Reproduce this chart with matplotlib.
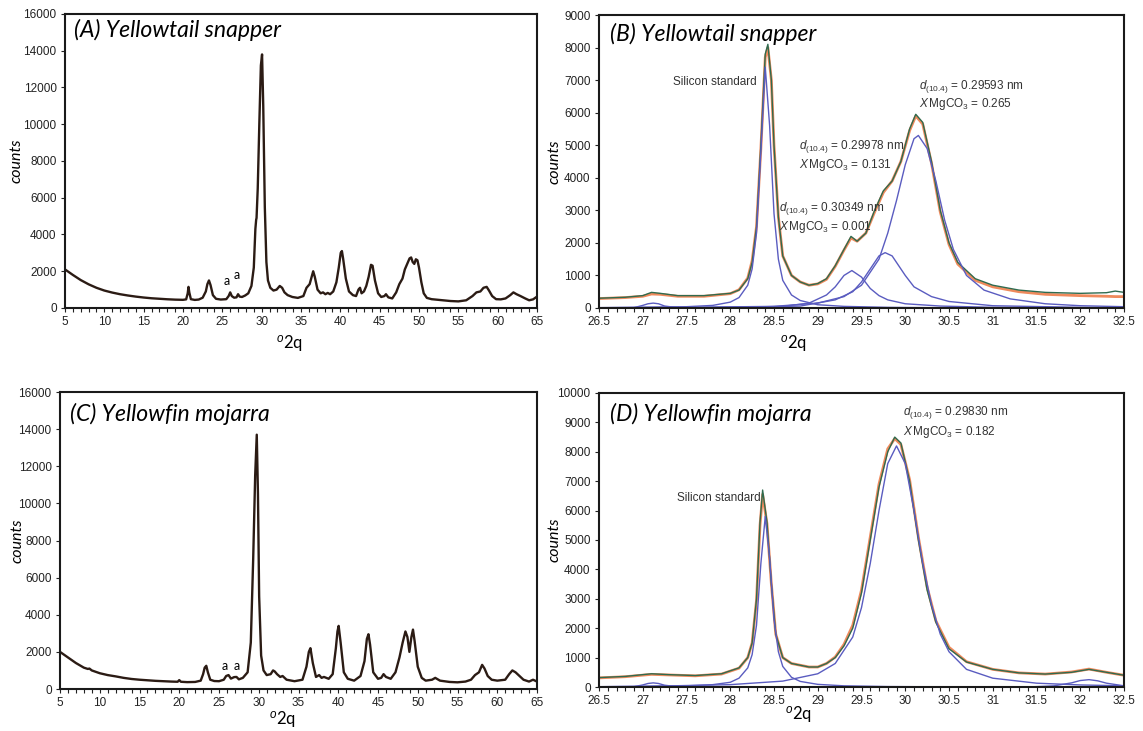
import matplotlib
matplotlib.use('Agg')
import matplotlib.pyplot as plt
from matplotlib.ticker import MultipleLocator
from matplotlib import font_manager

# ---- (A) Yellowtail snapper, full scan ----
a_x = [5, 6, 7, 8, 9, 10, 11, 12, 13, 14, 15, 16, 17, 18, 19, 20, 20.4, 20.6, 20.7, 20.8, 21.0,
       21.5, 22.0, 22.5, 22.9, 23.1, 23.3, 23.5, 23.8, 24.2, 24.8, 25.5, 25.8, 26.0, 26.2, 26.5,
       26.8, 27.0, 27.2, 27.5, 27.9, 28.3, 28.7, 29.0, 29.2, 29.3, 29.35, 29.5, 29.7, 29.9, 30.05,
       30.2, 30.4, 30.6, 30.8, 31.1, 31.5, 31.9, 32.3, 32.6, 32.9, 33.3, 33.9, 34.6, 35.3, 35.7,
       36.1, 36.35, 36.55, 36.75, 37.1, 37.5, 37.8, 38.1, 38.4, 38.7, 39.1, 39.5, 39.8, 40.05, 40.2,
       40.35, 40.7, 41.1, 41.6, 42.0, 42.3, 42.5, 42.7, 43.0, 43.3, 43.6, 43.9, 44.1, 44.4, 44.8,
       45.2, 45.6, 45.8, 46.1, 46.6, 47.1, 47.5, 47.9, 48.2, 48.5, 48.8, 49.0, 49.2, 49.4, 49.6,
       49.8, 50.0, 50.3, 50.6, 51.0, 51.6, 52.3, 53, 54, 55, 56, 56.8, 57.3, 57.8, 58.2, 58.6,
       58.9, 59.3, 59.8, 60.4, 61.0, 61.6, 62.0, 62.4, 62.9, 63.5, 64.0, 64.5, 65]
a_y = [2100, 1800, 1520, 1290, 1100, 950, 840, 750, 680, 620, 570, 530, 500, 475, 455, 445, 470,
       800, 1150, 850, 480, 440, 460, 560, 900, 1300, 1500, 1250, 700, 500, 460, 480, 650, 850,
       650, 560, 580, 750, 620, 600, 680, 800, 1200, 2200, 4300, 4800, 4900, 6500, 10000, 13200,
       13800, 11000, 5500, 2500, 1500, 1100, 950, 1000, 1200, 1100, 850, 700, 600, 550, 650, 1100,
       1300, 1700, 2000, 1700, 1000, 800, 850, 750, 820, 750, 900, 1400, 2200, 3000, 3100, 2700,
       1600, 900, 700, 650, 1000, 1100, 800, 900, 1200, 1700, 2350, 2300, 1500, 800, 600, 650, 750,
       580, 520, 850, 1300, 1600, 2100, 2400, 2700, 2750, 2500, 2400, 2650, 2600, 2200, 1400, 800,
       550, 480, 450, 420, 380, 360, 420, 650, 850, 900, 1100, 1150, 950, 650, 480, 470, 520, 700,
       850, 750, 650, 520, 420, 470, 620]

# ---- (C) Yellowfin mojarra, full scan ----
c_x = [5, 6, 7, 8, 8.5, 8.7, 9, 10, 11, 12, 13, 14, 15, 16, 17, 18, 19, 19.8, 20.0, 20.2, 21, 22,
       22.7, 23.0, 23.2, 23.4, 23.6, 23.9, 24.4, 25, 25.6, 25.9, 26.2, 26.5, 26.9, 27.2, 27.5, 28.0,
       28.6, 29.0, 29.3, 29.55, 29.75, 29.9, 30.05, 30.3, 30.6, 31.0, 31.5, 31.8, 32.0, 32.3, 32.7,
       33.0, 33.5, 34.5, 35.5, 36.0, 36.3, 36.5, 36.8, 37.2, 37.6, 37.9, 38.2, 38.8, 39.3, 39.7,
       39.9, 40.05, 40.3, 40.7, 41.2, 42.0, 42.8, 43.3, 43.6, 43.8, 44.0, 44.4, 45.0, 45.4, 45.7,
       46.0, 46.6, 47.2, 47.7, 48.1, 48.45, 48.7, 48.95, 49.2, 49.4, 49.6, 50.0, 50.5, 51.0, 51.8,
       52.2, 52.8, 54, 55, 56, 56.7, 57.2, 57.7, 58.1, 58.4, 58.8, 59.3, 60, 61, 61.5, 61.9, 62.3,
       62.8, 63.3, 64, 64.5, 65]
c_y = [2000, 1700, 1400, 1150, 1080, 1100, 1000, 850, 750, 680, 600, 540, 500, 470, 440, 420, 400,
       390, 480, 390, 370, 380, 450, 800, 1150, 1250, 900, 500, 430, 420, 500, 700, 750, 560, 640,
       650, 520, 600, 900, 2500, 7000, 11500, 13700, 10500, 5000, 1800, 1000, 750, 800, 1000, 950,
       800, 650, 700, 500, 420, 500, 1200, 2000, 2200, 1400, 650, 750, 600, 650, 550, 800, 2200,
       3100, 3400, 2500, 900, 550, 450, 700, 1500, 2700, 2950, 2400, 900, 550, 600, 800, 650, 550,
       900, 1700, 2500, 3100, 2800, 2000, 2800, 3200, 2600, 1200, 600, 450, 500, 600, 450, 380, 360,
       400, 500, 750, 900, 1300, 1100, 700, 500, 450, 500, 800, 1000, 900, 700, 500, 400, 500, 400]

# ---- (B) Yellowtail snapper, 26.5-32.5 with fitted components ----
b_x = [26.5, 26.8, 27.0, 27.1, 27.2, 27.4, 27.7, 28.0, 28.1, 28.2, 28.25, 28.3, 28.35, 28.4, 28.43,
       28.47, 28.5, 28.55, 28.6, 28.7, 28.8, 28.9, 29.0, 29.1, 29.2, 29.3, 29.38, 29.45, 29.55,
       29.65, 29.75, 29.85, 29.95, 30.05, 30.12, 30.2, 30.3, 30.4, 30.5, 30.6, 30.8, 31.0, 31.3,
       31.6, 32.0, 32.3, 32.4, 32.5]
b_obs = [300, 330, 380, 480, 450, 380, 380, 450, 550, 900, 1400, 2500, 5000, 7800, 8100, 7000,
         5000, 2800, 1600, 1000, 800, 700, 750, 900, 1300, 1800, 2200, 2050, 2300, 3000, 3600,
         3900, 4500, 5500, 5950, 5700, 4500, 3000, 2000, 1400, 900, 700, 550, 480, 450, 470, 520, 480]
b_fit = [290, 320, 360, 430, 420, 360, 360, 440, 560, 920, 1450, 2500, 4900, 7700, 8000, 7000,
         5000, 2800, 1600, 1000, 800, 700, 740, 880, 1280, 1780, 2150, 2050, 2300, 2950, 3550,
         3900, 4500, 5450, 5900, 5650, 4450, 2950, 1950, 1350, 850, 650, 500, 420, 380, 360, 350, 350]
b_si_x = [26.5, 27.5, 27.8, 28.0, 28.1, 28.2, 28.25, 28.3, 28.35, 28.4, 28.45, 28.5, 28.55, 28.6,
          28.7, 28.8, 29.0, 29.3, 29.8, 30.5, 32.5]
b_si_y = [10, 40, 80, 180, 320, 700, 1200, 2300, 4800, 7400, 5600, 2900, 1500, 850, 400, 230,
          100, 50, 20, 5, 0]
b_k1_x = [26.5, 26.9, 27.0, 27.06, 27.12, 27.18, 27.25, 27.4, 27.6]
b_k1_y = [0, 10, 80, 130, 150, 130, 60, 10, 0]
b_p1_x = [27.5, 28.0, 28.6, 28.9, 29.1, 29.2, 29.3, 29.39, 29.5, 29.6, 29.7, 29.8, 30.0, 30.4, 31.0, 32.5]
b_p1_y = [10, 20, 50, 150, 400, 650, 1000, 1150, 950, 600, 380, 250, 130, 60, 20, 5]
b_p2_x = [27.5, 28.3, 28.8, 29.2, 29.4, 29.5, 29.6, 29.7, 29.77, 29.85, 30.0, 30.1, 30.3, 30.5,
          31.0, 32.0, 32.5]
b_p2_y = [10, 30, 60, 250, 500, 800, 1200, 1600, 1700, 1600, 1000, 650, 350, 200, 70, 20, 10]
b_p3_x = [26.5, 27.5, 28.5, 29.0, 29.3, 29.5, 29.7, 29.8, 29.9, 30.0, 30.1, 30.15, 30.25, 30.35,
          30.45, 30.55, 30.7, 30.9, 31.2, 31.6, 32.0, 32.5]
b_p3_y = [10, 20, 50, 150, 350, 700, 1500, 2300, 3300, 4400, 5200, 5300, 4900, 3900, 2700, 1800,
          1000, 550, 280, 130, 70, 40]

# ---- (D) Yellowfin mojarra, 26.5-32.5 with fitted components ----
d_x = [26.5, 26.8, 27.1, 27.3, 27.6, 27.9, 28.1, 28.2, 28.25, 28.3, 28.34, 28.37, 28.42, 28.47,
       28.52, 28.6, 28.7, 28.9, 29.0, 29.1, 29.2, 29.3, 29.4, 29.5, 29.6, 29.7, 29.8, 29.88, 29.95,
       30.05, 30.15, 30.25, 30.35, 30.5, 30.7, 31.0, 31.3, 31.6, 31.9, 32.1, 32.3, 32.5]
d_obs = [320, 360, 450, 420, 390, 450, 650, 1000, 1500, 3000, 5600, 6700, 5600, 3500, 1800, 1000,
         800, 680, 680, 800, 1000, 1400, 2000, 3200, 5000, 6800, 8000, 8500, 8300, 7000, 5000, 3300,
         2200, 1300, 850, 600, 480, 440, 500, 600, 500, 400]
d_fit = [310, 350, 430, 410, 380, 440, 640, 1000, 1500, 2950, 5500, 6550, 5550, 3500, 1800, 1000,
         800, 680, 680, 800, 1020, 1450, 2100, 3300, 5100, 6900, 8100, 8450, 8250, 7050, 5100, 3400,
         2250, 1350, 860, 600, 480, 440, 510, 610, 500, 400]
d_si_x = [26.5, 27.5, 27.8, 28.0, 28.1, 28.2, 28.25, 28.3, 28.35, 28.4, 28.45, 28.5, 28.55, 28.6,
          28.7, 28.8, 29.0, 29.3, 29.8, 30.5, 32.5]
d_si_y = [10, 40, 80, 160, 300, 650, 1100, 2100, 4200, 5800, 4400, 2300, 1200, 700, 330, 190,
          90, 40, 15, 5, 0]
d_k1_x = [26.5, 26.9, 27.0, 27.06, 27.12, 27.18, 27.25, 27.4, 27.6]
d_k1_y = [0, 10, 70, 120, 140, 120, 60, 10, 0]
d_main_x = [26.5, 27.0, 28.0, 28.6, 29.0, 29.2, 29.4, 29.5, 29.6, 29.7, 29.8, 29.9, 30.0, 30.1,
            30.2, 30.3, 30.4, 30.5, 30.7, 31.0, 31.5, 32.0, 32.5]
d_main_y = [10, 20, 80, 200, 450, 800, 1700, 2700, 4200, 6000, 7600, 8200, 7600, 6000, 4200,
            2800, 1800, 1200, 600, 300, 130, 70, 40]
d_k2_x = [31.4, 31.7, 31.9, 32.0, 32.1, 32.2, 32.3, 32.5]
d_k2_y = [0, 40, 140, 220, 250, 210, 130, 40]

names = {f.name for f in font_manager.fontManager.ttflist}
narrow = 'Liberation Sans Narrow' if 'Liberation Sans Narrow' in names else 'Liberation Sans'
title_font = 'Lato' if 'Lato' in names else 'Open Sans'

plt.rcParams['font.family'] = 'Liberation Sans'
plt.rcParams['mathtext.fontset'] = 'custom'
plt.rcParams['mathtext.rm'] = narrow
plt.rcParams['mathtext.it'] = narrow + ':italic'

W, H = 1143, 731
fig = plt.figure(figsize=(W / 100, H / 100), dpi=100)


def box(l, t, r, b):
    return [l / W, 1 - b / H, (r - l) / W, (b - t) / H]


def style(ax, xlim, ylim, xmaj, xmin, ymaj):
    ax.set_xlim(*xlim)
    ax.set_ylim(*ylim)
    ax.xaxis.set_major_locator(MultipleLocator(xmaj))
    ax.xaxis.set_minor_locator(MultipleLocator(xmin))
    ax.yaxis.set_major_locator(MultipleLocator(ymaj))
    ax.xaxis.set_major_formatter(plt.FuncFormatter(lambda v, p: '%g' % v))
    ax.tick_params(which='both', direction='out', top=False, right=False, length=3, width=0.8,
                   labelsize=8.5, pad=3, colors='#222222')
    for s in ax.spines.values():
        s.set_linewidth(1.5)
        s.set_color('#1a1a1a')
    ax.set_ylabel('counts', family=title_font, style='italic', fontsize=11.5)
    ax.set_xlabel('$^{o}$2q', family=title_font, fontsize=12)


ax_a = fig.add_axes(box(65, 14, 537, 308))
ax_c = fig.add_axes(box(60, 392, 537, 689))
ax_b = fig.add_axes(box(599, 15, 1124, 308))
ax_d = fig.add_axes(box(599, 393, 1124, 687))

brown = '#2b1b14'
ax_a.plot(a_x, a_y, color=brown, lw=1.7, solid_joinstyle='round')
ax_c.plot(c_x, c_y, color=brown, lw=1.7, solid_joinstyle='round')
style(ax_a, (5, 65), (0, 16000), 5, 1, 2000)
style(ax_c, (5, 65), (0, 16000), 5, 1, 2000)

green = '#2f6b4f'
orange = '#ef8a5c'
blue = '#5a5cc0'

ax_b.plot(b_x, b_fit, color=orange, lw=2.0)
ax_b.plot(b_x, b_obs, color=green, lw=1.0)
for xs, ys in [(b_si_x, b_si_y), (b_k1_x, b_k1_y), (b_p1_x, b_p1_y), (b_p2_x, b_p2_y), (b_p3_x, b_p3_y)]:
    ax_b.plot(xs, ys, color=blue, lw=1.0)
style(ax_b, (26.5, 32.5), (0, 9000), 0.5, 0.1, 1000)

ax_d.plot(d_x, d_fit, color=orange, lw=2.0)
ax_d.plot(d_x, d_obs, color=green, lw=1.0)
for xs, ys in [(d_si_x, d_si_y), (d_k1_x, d_k1_y), (d_main_x, d_main_y), (d_k2_x, d_k2_y)]:
    ax_d.plot(xs, ys, color=blue, lw=1.0)
style(ax_d, (26.5, 32.5), (0, 10000), 0.5, 0.1, 1000)

# panel titles and axis label placement
for ax, title, ty, ylx, xlx, xly in [
        (ax_a, '(A) Yellowtail snapper', 0.945, -0.087, 0.475, -0.085),
        (ax_b, '(B) Yellowtail snapper', 0.935, -0.072, 0.37, -0.085),
        (ax_c, '(C) Yellowfin mojarra', 0.926, -0.075, 0.467, -0.07),
        (ax_d, '(D) Yellowfin mojarra', 0.93, -0.072, 0.38, -0.06)]:
    ax.text(0.02, ty, title, transform=ax.transAxes, family=title_font, style='italic',
            fontsize=16.6, va='center', ha='left')
    ax.yaxis.set_label_coords(ylx, 0.5)
    ax.xaxis.set_label_coords(xlx, xly)

a_kw = dict(fontsize=9, family=title_font, ha='center', va='center')
ax_a.text(25.6, 1490, 'a', **a_kw)
ax_a.text(26.8, 1820, 'a', **a_kw)
ax_c.text(25.75, 1260, 'a', **a_kw)
ax_c.text(27.25, 1260, 'a', **a_kw)

ann = dict(fontsize=8.5, family=narrow, color='#333333', va='center', ha='left')
ax_b.text(27.35, 6950, 'Silicon standard', **ann)
ax_b.text(28.56, 3050, r'$d_{(10.4)}$ = 0.30349 nm', **ann)
ax_b.text(28.56, 2480, r'$X\,$MgCO$_3$ = 0.001', **ann)
ax_b.text(28.79, 4950, r'$d_{(10.4)}$ = 0.29978 nm', **ann)
ax_b.text(28.79, 4380, r'$X\,$MgCO$_3$ = 0.131', **ann)
ax_b.text(30.16, 6810, r'$d_{(10.4)}$ = 0.29593 nm', **ann)
ax_b.text(30.16, 6260, r'$X\,$MgCO$_3$ = 0.265', **ann)

ax_d.text(27.39, 6420, 'Silicon standard', **ann)
ax_d.text(29.97, 9320, r'$d_{(10.4)}$ = 0.29830 nm', **ann)
ax_d.text(29.97, 8690, r'$X\,$MgCO$_3$ = 0.182', **ann)

fig.savefig('out.png', dpi=100)
